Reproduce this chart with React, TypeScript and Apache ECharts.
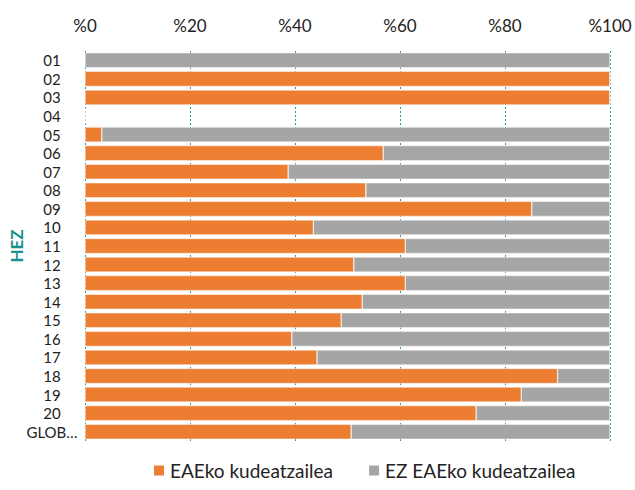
import React, { useEffect, useRef } from "react";
import * as echarts from "echarts";

const categories = ["01","02","03","04","05","06","07","08","09","10","11","12","13","14","15","16","17","18","19","20","GLOB…"];
const eaeko = [0,100,100,0,3.2,56.8,38.7,53.5,85.1,43.5,61.0,51.2,61.0,52.8,48.8,39.4,44.2,90.0,83.1,74.5,50.7];
const ezEaeko = [100,0,0,0,96.8,43.2,61.3,46.5,14.9,56.5,39.0,48.8,39.0,47.2,51.2,60.6,55.8,10.0,16.9,25.5,49.3];
const seriesNames = ["EAEko kudeatzailea", "EZ EAEko kudeatzailea"];
const FONT = "Lato, 'Open Sans', sans-serif";

export default function App() {
  const ref = useRef<HTMLDivElement>(null);
  useEffect(() => {
    document.body.style.margin = "0";
    const chart = echarts.init(ref.current!, undefined, { renderer: "svg" });
    chart.setOption({
      animation: false,
      textStyle: { fontFamily: FONT },
      grid: { left: 85, right: 25, top: 51, bottom: 49, containLabel: false, outerBoundsMode: "none" },
      legend: {
        top: 456,
        left: 147,
        itemWidth: 12,
        itemHeight: 12,
        itemGap: 34,
        icon: "rect",
        textStyle: { fontSize: 19, color: "#222", fontFamily: FONT },
        data: seriesNames,
      },
      xAxis: {
        type: "value",
        position: "top",
        min: 0,
        max: 100,
        interval: 20,
        axisLine: { show: false },
        axisTick: { show: false },
        axisLabel: { formatter: (v: number) => "%" + v, fontSize: 17, color: "#222", margin: 17 },
        splitLine: { show: true, lineStyle: { color: "#2a9d9b", type: [2, 2], width: 1 } },
      },
      yAxis: {
        type: "category",
        inverse: true,
        data: categories,
        name: "HEZ",
        nameLocation: "middle",
        nameRotate: 90,
        nameGap: 60,
        nameMoveOverlap: false,
        nameTextStyle: { color: "#17928f", fontWeight: "bold", fontSize: 17, fontFamily: FONT },
        axisLine: { show: false },
        axisTick: { show: false },
        axisLabel: { fontSize: 15, lineHeight: 15, color: "#222", margin: 33, interval: 0, align: "center" },
      },
      series: [
        {
          name: seriesNames[0],
          type: "bar",
          stack: "total",
          data: eaeko,
          barCategoryGap: "19%",
          itemStyle: { color: "#ED7D31", borderColor: "#fff", borderWidth: 0.5 },
        },
        {
          name: seriesNames[1],
          type: "bar",
          stack: "total",
          data: ezEaeko,
          barCategoryGap: "19%",
          itemStyle: { color: "#A5A5A5", borderColor: "#fff", borderWidth: 0.5 },
        },
      ],
    });
    return () => chart.dispose();
  }, []);
  return <div ref={ref} style={{ width: 635, height: 490 }} />;
}
